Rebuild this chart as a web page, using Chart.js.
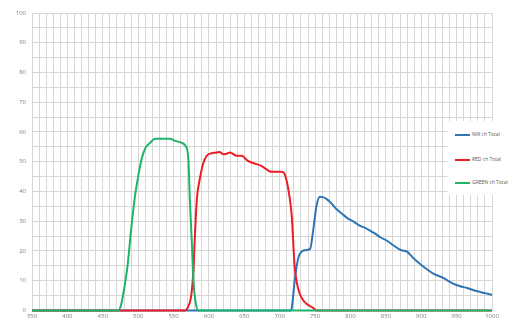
<!DOCTYPE html>
<html>
<head>
<meta charset="utf-8">
<script src="https://cdn.jsdelivr.net/npm/chart.js@4.4.1/dist/chart.umd.min.js"></script>
<style>
  html, body { margin: 0; padding: 0; background: #fff; }
  #wrap { position: relative; width: 510px; height: 320px; }
  #legend {
    position: absolute; left: 448px; top: 121px; width: 62px; height: 74px;
    background: #fff; overflow: hidden;
    font-family: "Open Sans", "Liberation Sans", sans-serif; font-size: 5px; color: #595959;
  }
  .item { position: absolute; left: 7px; height: 6px; white-space: nowrap; line-height: 6px; }
  .item span.line { display: inline-block; width: 15px; height: 2px; vertical-align: middle; margin-right: 2px; }
</style>
</head>
<body>
<div id="wrap">
  <canvas id="chart" width="510" height="320"></canvas>
  <div id="legend"></div>
</div>
<script>
// --- data (wavelength in nm, response in %) ---
const xTicks = [350, 400, 450, 500, 550, 600, 650, 700, 750, 800, 850, 900, 950, 1000];

const greenNm  = [350, 472, 476, 480, 485, 490, 495, 500, 505, 510, 517, 524, 530, 545, 552, 561, 567, 571, 573, 576, 578, 581, 585, 1000];
const greenVal = [0, 0, 2, 7, 15, 27, 37.5, 45, 51, 54.5, 56.4, 57.7, 57.7, 57.7, 57, 56.4, 55.3, 50.8, 37.5, 22, 10, 3, 0, 0];

const redNm  = [350, 566, 572, 575, 578, 580, 583, 587, 592, 597, 603, 611, 615, 620, 625, 630, 639, 646, 655, 667, 674, 681, 688, 703, 707, 712, 717, 721, 726, 735, 747, 752, 1000];
const redVal = [0, 0, 2, 5, 13, 24, 37.5, 44, 49.5, 52, 52.8, 53.1, 53.3, 52.5, 52.7, 53.1, 52, 52, 50.3, 49.2, 48.6, 47.5, 46.6, 46.6, 45.8, 41, 31.9, 15.2, 7.4, 2.9, 0.9, 0, 0];

const nirNm  = [350, 715, 717, 721, 726, 730, 735, 743, 747, 752, 757, 762, 766, 773, 780, 788, 797, 805, 813, 820, 827, 835, 842, 851, 860, 872, 879, 888, 898, 907, 917, 931, 945, 955, 964, 978, 990, 1000];
const nirVal = [0, 0, 0.7, 9.6, 17.4, 19.5, 20.2, 20.7, 26.3, 35.2, 38.2, 38, 37.5, 36, 34.1, 32.5, 30.8, 29.8, 28.5, 27.8, 26.9, 25.8, 24.6, 23.5, 22, 20.2, 19.9, 17.8, 15.7, 14, 12.4, 10.9, 9, 8.1, 7.6, 6.5, 5.8, 5.2];

const seriesNames = ['GREEN ch Total', 'RED ch Total', 'NIR ch Total'];
const seriesColors = ['#1fb46a', '#ee1c25', '#2e75b6'];

function toPoints(xs, ys) {
    return xs.map((x, i) => ({ x: x, y: ys[i] }));
}

const gridColor = '#d6d6d6';
const tickFont = { family: '"Open Sans", "Liberation Sans", sans-serif', size: 6 };

// green first so it sits on top along the zero line, as in the picture
const seriesData = [toPoints(greenNm, greenVal), toPoints(redNm, redVal), toPoints(nirNm, nirVal)];
const datasets = seriesData.map((pts, i) => ({
    label: seriesNames[i],
    data: pts,
    borderColor: seriesColors[i],
    backgroundColor: seriesColors[i],
    borderWidth: 2,
    pointRadius: 0,
    fill: false,
    clip: false, // keep the full width of the zero line visible
    cubicInterpolationMode: 'monotone'
}));

const chart = new Chart(document.getElementById('chart'), {
    type: 'line',
    data: { datasets: datasets },
    options: {
        responsive: false,
        animation: false,
        layout: { padding: { top: 13, right: 18, left: 0, bottom: 0 } },
        plugins: { legend: { display: false }, tooltip: { enabled: false } },
        scales: {
            x: {
                type: 'linear',
                min: 350, max: 1000,
                afterFit: s => { s.height = 8; },
                grid: { color: gridColor, drawTicks: false },
                border: { color: gridColor },
                ticks: {
                    stepSize: 10, autoSkip: false, maxRotation: 0, padding: 2,
                    color: '#7f7f7f', font: tickFont,
                    callback: v => xTicks.includes(v) ? String(v) : ''
                }
            },
            y: {
                min: 0, max: 100,
                afterFit: s => { s.width = 32; },
                grid: { color: gridColor, drawTicks: false },
                border: { color: gridColor },
                ticks: {
                    stepSize: 5, autoSkip: false, padding: 6,
                    color: '#7f7f7f', font: tickFont,
                    callback: v => v % 10 === 0 ? String(v) : ''
                }
            }
        }
    }
});

// legend drawn as html over the right edge of the plot, NIR first
const legend = document.getElementById('legend');
const legendTops = [10, 35, 58];
[2, 1, 0].forEach((idx, row) => {
    const ds = chart.data.datasets[idx];
    const item = document.createElement('div');
    item.className = 'item';
    item.style.top = legendTops[row] + 'px';
    item.innerHTML = '<span class="line" style="background:' + ds.borderColor + '"></span>' + ds.label;
    legend.appendChild(item);
});
</script>
</body>
</html>
